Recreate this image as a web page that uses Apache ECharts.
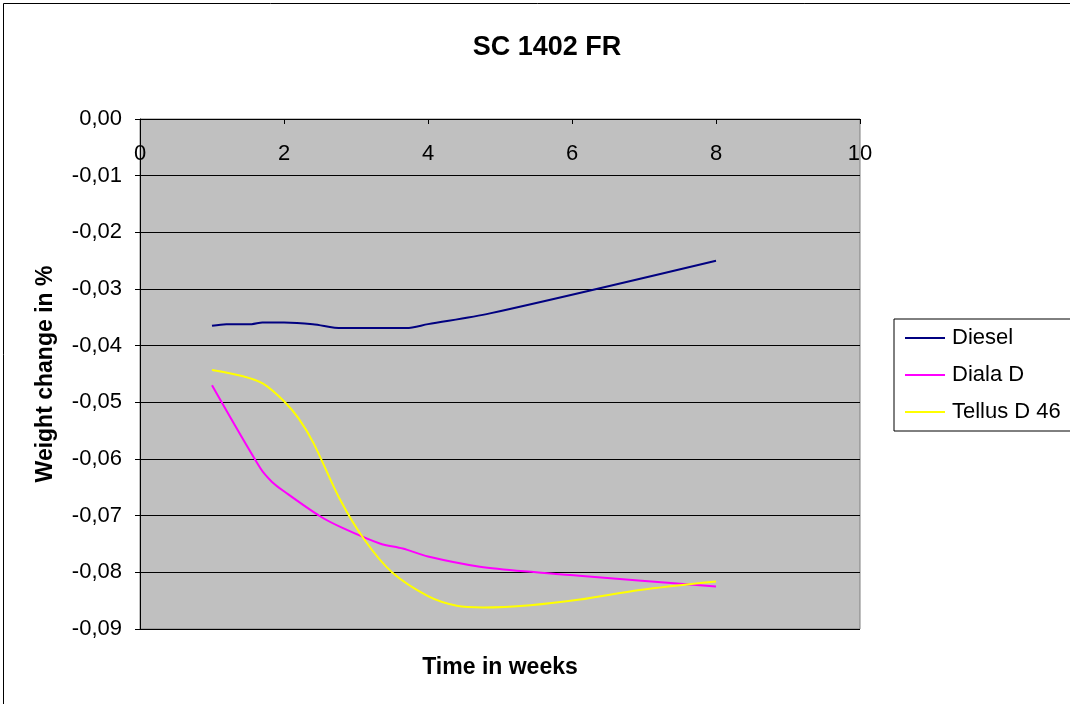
<!DOCTYPE html>
<html>
<head>
<meta charset="utf-8">
<script src="https://cdn.jsdelivr.net/npm/echarts@6/dist/echarts.min.js"></script>
<style>
html,body{margin:0;padding:0;background:#fff;}
#chart{width:1070px;height:704px;}
</style>
</head>
<body>
<div id="chart"></div>
<script>
// ---- data ----
const chartTitle = 'SC 1402 FR';
const xAxisName = 'Time in weeks';
const yAxisName = 'Weight change in %';
const seriesNames = ['Diesel', 'Diala D', 'Tellus D 46'];
const seriesColors = ['#000080', '#FF00FF', '#FFFF00'];

const dieselWeeks = [1, 1.2, 1.55, 1.7, 2, 2.4, 2.8, 3.7, 4, 4.86, 8];
const dieselValues = [-0.0365, -0.0362, -0.0362, -0.0359, -0.0359, -0.0362, -0.0369, -0.0369, -0.0362, -0.0343, -0.0250];

const dialaWeeks = [1, 1.67, 1.83, 2, 2.5, 2.82, 3.33, 3.65, 4, 4.72, 5.5, 6.1, 8];
const dialaValues = [-0.0470, -0.0616, -0.0640, -0.0657, -0.0701, -0.0722, -0.0749, -0.0758, -0.0772, -0.0790, -0.0800, -0.0806, -0.0825];

const tellusWeeks = [1, 1.43, 1.71, 2, 2.2, 2.41, 2.78, 3.12, 3.5, 4, 4.4, 4.77, 5.42, 6.11, 6.94, 8];
const tellusValues = [-0.0443, -0.0454, -0.0467, -0.0498, -0.0528, -0.0572, -0.0672, -0.0743, -0.0800, -0.0842, -0.0859, -0.0862, -0.0858, -0.0848, -0.0831, -0.0816];

const xMin = 0, xMax = 10, xStep = 2;
const yMin = -0.09, yMax = 0, yStep = 0.01;

function pairs(xs, ys) { return xs.map((x, i) => [x, ys[i]]); }
const allSeries = [
  pairs(dieselWeeks, dieselValues),
  pairs(dialaWeeks, dialaValues),
  pairs(tellusWeeks, tellusValues)
];

const chart = echarts.init(document.getElementById('chart'), null, {renderer: 'canvas'});
const FONT = 'Liberation Sans, Arial, sans-serif';

chart.setOption({
  animation: false,
  backgroundColor: '#ffffff',
  textStyle: {fontFamily: FONT},
  graphic: [{
    type: 'rect', silent: true, z: -10,
    shape: {x: 3.5, y: 3.5, width: 1200, height: 800},
    style: {fill: 'none', stroke: '#000', lineWidth: 1}
  }, {
    type: 'text', silent: true, x: 500, y: 668,
    style: {text: xAxisName, align: 'center', verticalAlign: 'middle',
      font: 'bold 23px Liberation Sans, Arial, sans-serif', fill: '#000'}
  }],
  title: {
    text: chartTitle, left: 542, top: 29, textAlign: 'center',
    textStyle: {fontFamily: FONT, fontSize: 27, fontWeight: 'bold', color: '#000'}
  },
  grid: {
    left: 140, top: 119, width: 720, height: 510,
    show: true, backgroundColor: '#C0C0C0', borderColor: '#808080', borderWidth: 1
  },
  legend: {
    orient: 'vertical', left: 894, top: 319,
    data: seriesNames,
    icon: 'rect', itemWidth: 40, itemHeight: 2, itemGap: 15,
    padding: [8, 30, 8, 11],
    borderColor: '#000', borderWidth: 1, backgroundColor: '#fff',
    textStyle: {fontFamily: FONT, fontSize: 22, color: '#000', lineHeight: 22, padding: [0, 0, 0, 2]}
  },
  xAxis: {
    type: 'value', position: 'top', min: xMin, max: xMax, interval: xStep,
    axisLine: {show: true, onZero: false, lineStyle: {color: '#000', width: 1}},
    axisTick: {show: true, inside: true, length: 5, lineStyle: {color: '#000'}},
    axisLabel: {inside: true, margin: 24, fontFamily: FONT, fontSize: 22, color: '#000'},
    splitLine: {show: false}
  },
  yAxis: {
    type: 'value', min: yMin, max: yMax, interval: yStep,
    name: yAxisName, nameLocation: 'middle', nameGap: 83, nameRotate: 90,
    nameTextStyle: {fontFamily: FONT, fontSize: 23, fontWeight: 'bold', color: '#000'},
    axisLine: {show: true, onZero: false, lineStyle: {color: '#000', width: 1}},
    axisTick: {show: true, inside: false, length: 5, lineStyle: {color: '#000'}},
    axisLabel: {
      margin: 18, fontFamily: FONT, fontSize: 22, color: '#000',
      formatter: v => { const r = Math.round(v * 100) / 100; return (r === 0 ? 0 : r).toFixed(2).replace('.', ','); }
    },
    splitLine: {show: true, lineStyle: {color: '#000', width: 1}}
  },
  series: seriesNames.map((n, i) => ({
    name: n, type: 'line', data: allSeries[i],
    showSymbol: false, symbol: 'none', smooth: 0.3,
    lineStyle: {color: seriesColors[i], width: 2},
    itemStyle: {color: seriesColors[i]}
  }))
});
</script>
</body>
</html>
